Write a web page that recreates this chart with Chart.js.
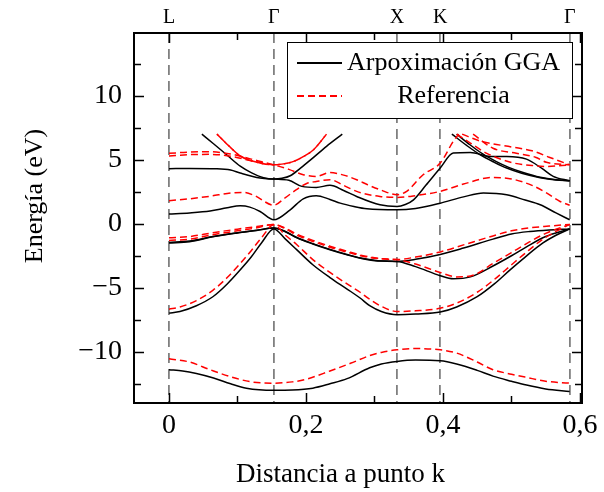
<!DOCTYPE html>
<html>
<head>
<meta charset="utf-8">
<style>
  body { margin: 0; background: #fff; }
  canvas { display: block; }
</style>
</head>
<body>
<canvas id="bands" width="604" height="492"></canvas>
<script src="https://cdn.jsdelivr.net/npm/chart.js"></script>
<script>
// high symmetry points (distance in k) and their names
const kPos = [0, 0.153, 0.333, 0.396, 0.585];
const kNames = ['L', 'Γ', 'X', 'K', 'Γ'];

const xTicks = [0, 0.1, 0.2, 0.3, 0.4, 0.5, 0.6];
const yTicks = [-12.5, -10, -7.5, -5, -2.5, 0, 2.5, 5, 7.5, 10, 12.5];

// GGA bands [k, E(eV)]
const gga_s = [[0,-11.4],[0.02,-11.5],[0.04,-11.7],[0.065,-12.05],[0.09,-12.5],[0.113,-12.84],[0.153,-13.0],[0.18,-12.98],[0.21,-12.84],[0.235,-12.5],[0.26,-12.1],[0.293,-11.25],[0.31,-10.95],[0.333,-10.75],[0.36,-10.65],[0.396,-10.7],[0.42,-10.95],[0.45,-11.45],[0.473,-11.9],[0.5,-12.3],[0.522,-12.6],[0.55,-12.9],[0.585,-13.1]];
const gga_v1 = [[0,-6.98],[0.016,-6.85],[0.04,-6.4],[0.064,-5.7],[0.085,-4.7],[0.104,-3.6],[0.12,-2.6],[0.135,-1.5],[0.153,-0.4],[0.17,-1.2],[0.186,-2.0],[0.21,-3.2],[0.235,-4.2],[0.26,-5.1],[0.279,-5.8],[0.293,-6.4],[0.31,-6.85],[0.333,-7.1],[0.36,-7.05],[0.396,-6.9],[0.42,-6.5],[0.45,-5.7],[0.475,-4.7],[0.498,-3.6],[0.52,-2.6],[0.546,-1.5],[0.565,-0.9],[0.585,-0.4]];
const gga_v2 = [[0,-1.46],[0.03,-1.35],[0.064,-1.0],[0.1,-0.7],[0.128,-0.5],[0.153,-0.34],[0.17,-0.6],[0.186,-1.05],[0.21,-1.55],[0.235,-2.0],[0.26,-2.4],[0.28,-2.68],[0.305,-2.88],[0.333,-2.94],[0.36,-2.78],[0.396,-2.4],[0.43,-1.9],[0.473,-1.2],[0.5,-0.8],[0.527,-0.6],[0.555,-0.48],[0.585,-0.4]];
const gga_v3 = [[0,-1.5],[0.03,-1.4],[0.064,-1.02],[0.1,-0.72],[0.128,-0.52],[0.153,-0.34],[0.17,-0.62],[0.186,-1.08],[0.21,-1.58],[0.235,-2.03],[0.26,-2.43],[0.28,-2.7],[0.305,-2.9],[0.333,-2.94],[0.36,-3.35],[0.396,-4.06],[0.415,-4.3],[0.44,-4.15],[0.473,-3.3],[0.5,-2.5],[0.522,-1.8],[0.55,-1.0],[0.585,-0.4]];
const gga_c1 = [[0,0.76],[0.03,0.85],[0.06,1.0],[0.085,1.25],[0.104,1.4],[0.118,1.3],[0.133,0.96],[0.153,0.31],[0.177,1.09],[0.196,1.95],[0.215,2.19],[0.235,1.9],[0.25,1.61],[0.27,1.35],[0.289,1.17],[0.333,1.09],[0.36,1.2],[0.396,1.61],[0.43,2.1],[0.459,2.4],[0.493,2.27],[0.52,1.85],[0.542,1.48],[0.565,0.85],[0.585,0.31]];
const gga_c2 = [[0,4.3],[0.03,4.32],[0.07,4.3],[0.09,4.2],[0.104,3.96],[0.133,3.57],[0.153,3.49],[0.175,3.4],[0.194,2.92],[0.215,2.84],[0.235,3.0],[0.255,2.6],[0.274,2.13],[0.308,1.48],[0.333,1.35],[0.345,1.5],[0.357,1.87],[0.375,3.0],[0.396,4.35],[0.415,5.52],[0.44,5.57],[0.469,5.26],[0.493,5.26],[0.522,5.05],[0.545,4.3],[0.561,3.7],[0.585,3.36]];
const gga_c3 = [[0.048,7],[0.065,6.25],[0.085,5.35],[0.104,4.5],[0.12,4.0],[0.138,3.6],[0.153,3.49],[0.165,3.55],[0.177,3.75],[0.192,4.35],[0.208,5.05],[0.23,6.05],[0.253,7]];
const gga_c4 = [[0.413,7],[0.435,6.1],[0.454,5.4],[0.475,4.8],[0.493,4.35],[0.515,3.95],[0.542,3.6],[0.565,3.42],[0.585,3.36]];
const gga_c5 = [[0.42,7],[0.44,6.15],[0.458,5.45],[0.478,4.85],[0.496,4.4],[0.517,4.0],[0.542,3.63],[0.565,3.44],[0.585,3.36]];

// reference bands [k, E(eV)]
const ref_s = [[0,-10.55],[0.03,-10.8],[0.06,-11.4],[0.09,-11.95],[0.12,-12.35],[0.153,-12.45],[0.18,-12.35],[0.2,-12.15],[0.235,-11.5],[0.265,-10.9],[0.293,-10.3],[0.31,-10.05],[0.333,-9.85],[0.36,-9.75],[0.396,-9.85],[0.42,-10.1],[0.45,-10.8],[0.473,-11.4],[0.5,-11.75],[0.522,-12.0],[0.55,-12.3],[0.585,-12.45]];
const ref_v1 = [[0,-6.67],[0.016,-6.5],[0.04,-6.0],[0.064,-5.2],[0.085,-4.2],[0.104,-3.1],[0.12,-2.1],[0.135,-1.1],[0.153,-0.08],[0.17,-0.9],[0.186,-1.6],[0.21,-2.8],[0.235,-3.8],[0.26,-4.7],[0.279,-5.35],[0.293,-5.9],[0.31,-6.45],[0.333,-6.85],[0.36,-6.8],[0.396,-6.6],[0.42,-6.2],[0.45,-5.35],[0.475,-4.35],[0.498,-3.3],[0.52,-2.3],[0.546,-1.2],[0.565,-0.6],[0.585,-0.05]];
const ref_v2 = [[0,-1.1],[0.03,-1.0],[0.064,-0.7],[0.1,-0.42],[0.128,-0.22],[0.153,-0.05],[0.17,-0.35],[0.186,-0.8],[0.21,-1.3],[0.235,-1.75],[0.26,-2.15],[0.28,-2.45],[0.305,-2.7],[0.333,-2.8],[0.36,-2.6],[0.396,-2.2],[0.43,-1.65],[0.473,-0.95],[0.5,-0.55],[0.527,-0.32],[0.555,-0.18],[0.585,-0.05]];
const ref_v3 = [[0,-1.3],[0.03,-1.2],[0.064,-0.85],[0.1,-0.55],[0.128,-0.32],[0.153,-0.05],[0.17,-0.4],[0.186,-0.88],[0.21,-1.38],[0.235,-1.83],[0.26,-2.22],[0.28,-2.5],[0.305,-2.72],[0.333,-2.8],[0.36,-3.15],[0.396,-3.8],[0.42,-4.15],[0.445,-4.0],[0.473,-3.1],[0.5,-2.25],[0.522,-1.55],[0.55,-0.75],[0.585,-0.05]];
const ref_c1 = [[0,1.8],[0.03,1.95],[0.06,2.15],[0.09,2.4],[0.108,2.45],[0.125,2.2],[0.153,1.45],[0.17,2.05],[0.186,2.66],[0.201,3.15],[0.215,3.3],[0.235,3.44],[0.255,3.0],[0.274,2.53],[0.308,2.13],[0.333,2.06],[0.36,2.2],[0.396,2.53],[0.43,3.1],[0.473,3.62],[0.5,3.5],[0.53,3.0],[0.55,2.45],[0.571,1.74],[0.585,1.45]];
const ref_c2 = [[0,5.5],[0.03,5.6],[0.06,5.62],[0.09,5.45],[0.12,5.05],[0.153,4.6],[0.175,4.25],[0.196,3.83],[0.215,3.7],[0.235,4.0],[0.255,3.8],[0.274,3.44],[0.29,3.05],[0.308,2.66],[0.333,2.27],[0.347,2.53],[0.371,3.83],[0.396,4.74],[0.415,6.43],[0.423,7]];
const ref_c3 = [[0,5.3],[0.03,5.4],[0.06,5.42],[0.09,5.28],[0.12,4.92],[0.153,4.6]];
const ref_c4 = [[0.07,7],[0.087,6.1],[0.104,5.3],[0.133,4.74],[0.153,4.61],[0.17,4.7],[0.182,4.87],[0.198,5.3],[0.211,5.78],[0.23,7]];
const ref_c5 = [[0.428,7],[0.455,6.45],[0.5,6.0],[0.53,5.7],[0.555,5.2],[0.585,4.6]];
const ref_c6 = [[0.444,7],[0.473,5.9],[0.507,5.5],[0.535,5.2],[0.551,4.8],[0.585,4.6]];
const ref_c7 = [[0.42,7],[0.44,6.3],[0.464,5.5],[0.503,4.75],[0.53,4.55],[0.551,4.48],[0.585,4.6]];

const ggaBands = [gga_s, gga_v1, gga_v2, gga_v3, gga_c1, gga_c2, gga_c3, gga_c4, gga_c5];
const refBands = [ref_s, ref_v1, ref_v2, ref_v3, ref_c1, ref_c2, ref_c3, ref_c4, ref_c4, ref_c5, ref_c6, ref_c7];

const xMin = -0.0511, xMax = 0.603;
const yMin = -14, yMax = 14.9;
const serif = '"Liberation Serif", "DejaVu Serif", serif';

function toPts(arr) { return arr.map(p => ({x: p[0], y: p[1]})); }

let datasets = [];
refBands.forEach((b, i) => {
    datasets.push({
        label: i == 0 ? 'Referencia' : '',
        data: toPts(b),
        borderColor: '#ff0000',
        borderWidth: 1.5,
        borderDash: [7, 4],
        borderDashOffset: i == 8 ? 5.5 : 0,
        cubicInterpolationMode: 'monotone',
        pointRadius: 0,
        fill: false
    });
});
ggaBands.forEach((b, i) => {
    datasets.push({
        label: i == 0 ? 'Arpoximación GGA' : '',
        data: toPts(b),
        borderColor: '#000000',
        borderWidth: 1.5,
        cubicInterpolationMode: 'monotone',
        pointRadius: 0,
        fill: false
    });
});

function fmtX(v) {
    if (Math.round(v * 10) % 2 !== 0) return '';
    return v === 0 ? '0' : v.toFixed(1).replace('.', ',');
}
function fmtY(v) {
    if (Math.abs(v % 5) > 1e-6) return '';
    return v < 0 ? '\u2212' + Math.abs(v) : String(v);
}

const decor = {
    id: 'decor',
    afterDraw(chart) {
        const ctx = chart.ctx, a = chart.chartArea, sx = chart.scales.x, sy = chart.scales.y;
        ctx.save();
        ctx.strokeStyle = '#000';
        ctx.lineWidth = 1.5;
        ctx.setLineDash([]);
        ctx.beginPath();
        xTicks.forEach(v => {
            const px = Math.round(sx.getPixelForValue(v)) + 0.5;
            const len = Math.round(v * 10) % 2 === 0 ? 10 : 7;
            ctx.moveTo(px, a.bottom); ctx.lineTo(px, a.bottom - len);
            ctx.moveTo(px, a.top); ctx.lineTo(px, a.top + len);
        });
        yTicks.forEach(v => {
            const py = Math.round(sy.getPixelForValue(v)) + 0.5;
            const len = Math.abs(v % 5) < 1e-6 ? 10 : 7;
            ctx.moveTo(a.left, py); ctx.lineTo(a.left + len, py);
            ctx.moveTo(a.right, py); ctx.lineTo(a.right - len, py);
        });
        ctx.stroke();

        // frame
        ctx.lineWidth = 2;
        ctx.strokeRect(a.left, a.top, a.right - a.left, a.bottom - a.top);

        // legend
        const lx = a.left + 153, ly = a.top + 9, lw = 285, lh = 76;
        ctx.fillStyle = '#fff';
        ctx.fillRect(lx, ly, lw, lh);
        ctx.lineWidth = 1;
        ctx.strokeStyle = '#000';
        ctx.strokeRect(lx + 0.5, ly + 0.5, lw, lh);
        const rows = [
            {ds: datasets[refBands.length], y: ly + 21},
            {ds: datasets[0], y: ly + 54}
        ];
        ctx.font = '26px ' + serif;
        ctx.textAlign = 'center';
        ctx.textBaseline = 'middle';
        rows.forEach(r => {
            ctx.beginPath();
            ctx.strokeStyle = r.ds.borderColor;
            ctx.lineWidth = 2;
            ctx.setLineDash(r.ds.borderDash || []);
            ctx.moveTo(lx + 10, r.y);
            ctx.lineTo(lx + 55, r.y);
            ctx.stroke();
            ctx.setLineDash([]);
            ctx.fillStyle = '#000';
            ctx.fillText(r.ds.label, lx + 166.5, r.y);
        });

        // axis titles
        ctx.fillStyle = '#000';
        ctx.font = '27px ' + serif;
        ctx.textAlign = 'center';
        ctx.textBaseline = 'alphabetic';
        ctx.fillText('Distancia a punto k', 340.5, 482);
        ctx.font = '26px ' + serif;
        ctx.translate(42, 196);
        ctx.rotate(-Math.PI / 2);
        ctx.fillText('Energía (eV)', 0, 0);
        ctx.restore();
    }
};

const chart = new Chart(document.getElementById('bands').getContext('2d'), {
    type: 'line',
    data: {datasets: datasets},
    plugins: [decor],
    options: {
        responsive: false,
        animation: false,
        devicePixelRatio: 1,
        layout: {padding: 0},
        plugins: {legend: {display: false}, tooltip: {enabled: false}},
        scales: {
            x: {
                type: 'linear', position: 'bottom', min: xMin, max: xMax,
                afterBuildTicks: s => { s.ticks = xTicks.map(v => ({value: v})); },
                afterFit: s => { s.height = 89; },
                grid: {display: false, drawTicks: false},
                border: {display: false},
                ticks: {autoSkip: false, maxRotation: 0, minRotation: 0, padding: 6, color: '#000',
                        font: {family: serif, size: 28}, callback: v => fmtX(v)}
            },
            x2: {
                type: 'linear', position: 'top', min: xMin, max: xMax,
                afterBuildTicks: s => { s.ticks = kPos.map(v => ({value: v})); },
                afterFit: s => { s.height = 33; },
                grid: {display: true, drawOnChartArea: true, drawTicks: false, color: '#808080', lineWidth: 1.8},
                border: {display: false, dash: [10, 6]},
                ticks: {autoSkip: false, maxRotation: 0, minRotation: 0, padding: 3, color: '#000',
                        font: {family: serif, size: 20}, callback: (v, i) => kNames[i]}
            },
            y: {
                type: 'linear', position: 'left', min: yMin, max: yMax,
                afterBuildTicks: s => { s.ticks = yTicks.map(v => ({value: v})); },
                afterFit: s => { s.width = 134; },
                grid: {display: false, drawTicks: false},
                border: {display: false},
                ticks: {autoSkip: false, padding: 12, color: '#000',
                        font: {family: serif, size: 28}, callback: v => fmtY(v)}
            },
            y2: {
                type: 'linear', position: 'right', min: yMin, max: yMax,
                afterFit: s => { s.width = 22; },
                grid: {display: false, drawTicks: false},
                border: {display: false},
                ticks: {display: false}
            }
        }
    }
});
</script>
</body>
</html>
